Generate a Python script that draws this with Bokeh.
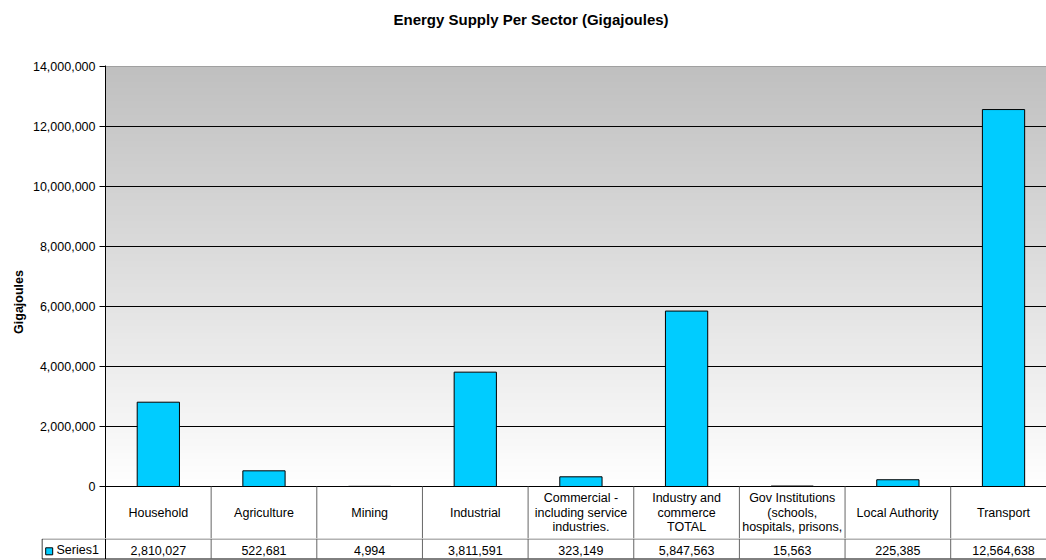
import numpy as np
from bokeh.plotting import figure
from bokeh.models import Range1d, FixedTicker, NumeralTickFormatter, Title
from bokeh.embed import file_html
from bokeh.resources import INLINE
from bokeh.core.properties import value

# ---- data -------------------------------------------------------------
sectors = [
    "Household", "Agriculture", "Mining", "Industrial",
    "Commercial - including service industries.",
    "Industry and commerce TOTAL",
    "Gov Institutions (schools, hospitals, prisons,",
    "Local Authority", "Transport",
]
# how each sector name wraps inside its data-table cell
sector_lines = [
    ["Household"], ["Agriculture"], ["Mining"], ["Industrial"],
    ["Commercial -", "including service", "industries."],
    ["Industry and", "commerce", "TOTAL"],
    ["Gov Institutions", "(schools,", "hospitals, prisons,"],
    ["Local Authority"], ["Transport"],
]
gigajoules = [2810027, 522681, 4994, 3811591, 323149,
              5847563, 15563, 225385, 12564638]
y_ticks = [0, 2000000, 4000000, 6000000, 8000000,
           10000000, 12000000, 14000000]
series_name = "Series1"

# ---- geometry ---------------------------------------------------------
W, H = 1046, 560
FRAME_LEFT = 105          # px of the value axis
TABLE_LEFT = 41           # px where the legend column of the table starts
FRAME_TOP = 65
ZERO_PX = 486             # px of the zero line
SPLIT_PX = 538            # chart + category row above, value row below
CAT_PX = 105.65           # px per category column
Y_MAX = y_ticks[-1]
GJ_PER_PX = Y_MAX / (ZERO_PX - 66.0)

x_end = (W - FRAME_LEFT) / CAT_PX
x_tbl = -(FRAME_LEFT - TABLE_LEFT) / CAT_PX
xs = [i + 0.5 for i in range(len(sectors))]
n_cat = len(sectors)


def ty(px):
    """vertical canvas pixel -> value-axis units (category row of the table)"""
    return (ZERO_PX - px) * GJ_PER_PX


def hx(px):
    """horizontal canvas pixel -> category units"""
    return (px - FRAME_LEFT) / CAT_PX


FONT = "Liberation Sans"
FS = "12.5px"
BAR_COLOR = "#00CCFF"
TABLE_LINE = "#666666"

# ======================= chart + category row ==========================
p = figure(width=W, height=SPLIT_PX, title=None,
           x_range=Range1d(0, x_end),
           y_range=Range1d(ty(SPLIT_PX), ty(FRAME_TOP)),
           x_axis_location=None,
           min_border_left=FRAME_LEFT, min_border_right=0,
           min_border_top=FRAME_TOP, min_border_bottom=0,
           toolbar_location=None, output_backend="svg")
p.outline_line_color = None
p.background_fill_color = "white"
p.border_fill_color = "white"

# title, lifted off the plot area by an empty spacer panel
p.add_layout(Title(text=" ", text_font_size="2px", standoff=34), "above")
p.add_layout(Title(text="Energy Supply Per Sector (Gigajoules)",
                   text_font=FONT, text_font_size="15px",
                   text_font_style="bold", text_color="black",
                   align="left", offset=288, standoff=0,
                   vertical_align="bottom"), "above")

# gray-to-white wall gradient
n = 256
shade = np.linspace(255, 192, n).astype(np.uint32)
img = np.empty((n, 1), dtype=np.uint32)
view = img.view(dtype=np.uint8).reshape((n, 1, 4))
view[:, 0, 0] = shade
view[:, 0, 1] = shade
view[:, 0, 2] = shade
view[:, 0, 3] = 255
p.image_rgba(image=[img], x=0, y=0, dw=x_end + 1, dh=Y_MAX, level="image")

p.xgrid.visible = False
p.ygrid.ticker = FixedTicker(ticks=y_ticks[:-1])
p.ygrid.grid_line_color = "black"
p.ygrid.grid_line_width = 1
p.hspan(y=[Y_MAX], line_color="#a0a0a0", line_width=1)

p.vbar(x=xs, top=gigajoules, width=0.4, bottom=0,
       fill_color=BAR_COLOR, line_color="black", line_width=1)

ax = p.yaxis[0]
ax.ticker = FixedTicker(ticks=y_ticks)
ax.formatter = NumeralTickFormatter(format="0,0")
ax.axis_line_color = "black"
ax.major_tick_line_color = "black"
ax.major_tick_out = 6
ax.major_tick_in = 0
ax.minor_tick_line_color = None
ax.major_label_standoff = 4
ax.major_label_text_font = FONT
ax.major_label_text_font_size = FS
ax.major_label_text_color = "black"
ax.axis_label = "Gigajoules"
ax.axis_label_text_font = FONT
ax.axis_label_text_font_size = "12.5px"
ax.axis_label_text_font_style = "bold"
ax.axis_label_text_color = "black"
ax.axis_label_standoff = 4

# category row of the data table
p.segment(x0=list(range(1, n_cat)), y0=[0] * (n_cat - 1),
          x1=list(range(1, n_cat)), y1=[ty(SPLIT_PX)] * (n_cat - 1),
          line_color=TABLE_LINE, line_width=1)

lab_x, lab_y, lab_t = [], [], []
for i, lines in enumerate(sector_lines):
    k = len(lines)
    for j, s in enumerate(lines):
        lab_x.append(xs[i])
        lab_y.append(ty(512 + (j - (k - 1) / 2) * 14.6))
        lab_t.append(s)
p.text(x=lab_x, y=lab_y, text=lab_t, text_align="center", text_baseline="middle",
       text_font=value(FONT), text_font_size=FS, text_color="black")

# ======================= value row with legend key =====================
ROW_H = H - SPLIT_PX
t = figure(width=W, height=ROW_H,
           x_range=Range1d(x_tbl, x_end), y_range=Range1d(ROW_H, 0),
           x_axis_location=None, y_axis_location=None,
           min_border_left=TABLE_LEFT, min_border_right=0,
           min_border_top=0, min_border_bottom=0,
           toolbar_location=None, output_backend="svg")
t.grid.visible = False
t.outline_line_color = None
t.background_fill_color = "white"
t.border_fill_color = "white"

edge = x_tbl + 0.5 / CAT_PX
t.segment(x0=[edge, edge], y0=[0.5, 20.5], x1=[x_end, x_end], y1=[0.5, 20.5],
          line_color=[TABLE_LINE, "black"], line_width=1)
t.segment(x0=[edge, 0], y0=[0.5, 0], x1=[edge, 0], y1=[20.5, 20.5],
          line_color="black", line_width=1)
t.segment(x0=list(range(1, n_cat)), y0=[0] * (n_cat - 1),
          x1=list(range(1, n_cat)), y1=[20.5] * (n_cat - 1),
          line_color=TABLE_LINE, line_width=1)
t.text(x=xs, y=[11.7] * n_cat, text=[f"{v:,}" for v in gigajoules],
       text_align="center", text_baseline="middle",
       text_font=value(FONT), text_font_size=FS, text_color="black")

# legend key for the series
t.scatter(x=[hx(48.7)], y=[12.8], marker="square", size=7,
          fill_color=BAR_COLOR, line_color="black", line_width=1)
t.text(x=[hx(56)], y=[11.7], text=[series_name],
       text_align="left", text_baseline="middle",
       text_font=value(FONT), text_font_size=FS, text_color="black")

open("out.html", "w").write(file_html([p, t], INLINE))
